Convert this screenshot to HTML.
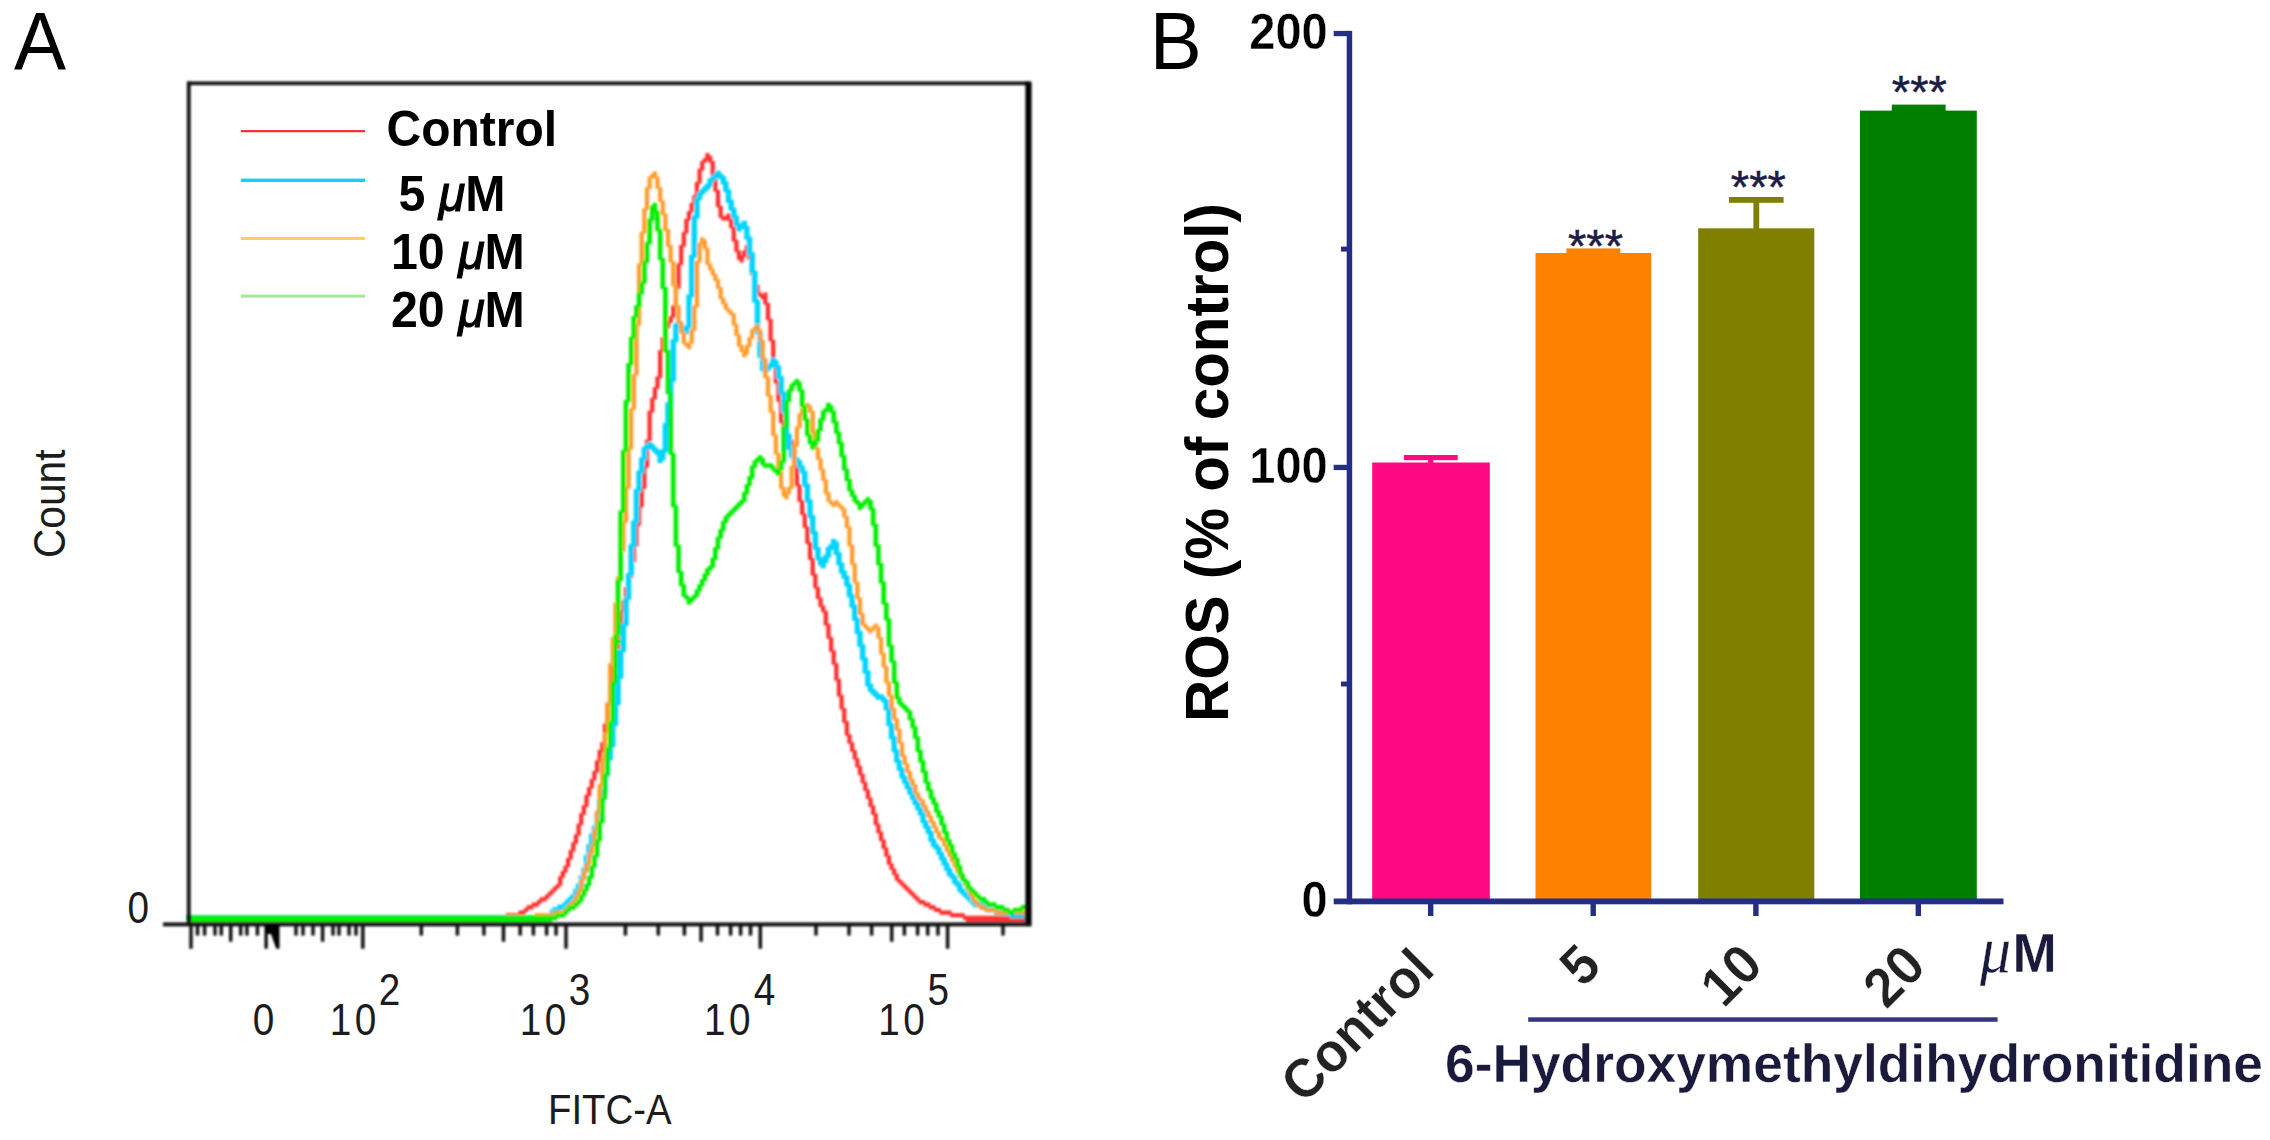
<!DOCTYPE html>
<html lang="en"><head><meta charset="utf-8"><title>ROS flow cytometry figure</title>
<style>html,body{margin:0;padding:0;background:#fff}body{width:2270px;height:1140px;overflow:hidden}svg{display:block}text{font-family:"Liberation Sans",Arial,Helvetica,sans-serif}</style>
</head><body>
<svg width="2270" height="1140" viewBox="0 0 2270 1140">
<defs><filter id="soft" x="-2%" y="-2%" width="104%" height="104%"><feGaussianBlur stdDeviation="0.8"/></filter><filter id="soft2" x="-5%" y="-5%" width="110%" height="110%"><feGaussianBlur stdDeviation="0.9"/></filter></defs>
<rect width="2270" height="1140" fill="#fff"/>
<g id="panelA">
<text transform="translate(14,68.7) scale(1,1.05)" font-size="78" fill="#000">A</text>
<g fill="none" stroke-linejoin="miter" stroke-linecap="square" filter="url(#soft)">
<path d="M507.59,915.24H518.11M520.74,912.61H523.37M526.0,909.98h.01M528.63,907.35H531.26M533.89,904.72H536.52M539.15,902.09h.01M541.78,899.46H544.41M547.04,896.83h.01M549.67,894.2h.01M552.3,891.57h.01M554.93,888.94h.01M557.56,886.31h.01M560.19,883.68V878.42M562.82,875.79V873.16M565.45,870.53V867.9M568.08,865.27V860.01M570.71,857.38V852.12M573.34,849.49V844.23M575.97,841.6V836.34M578.6,833.71V825.82M581.23,823.19V815.3M583.86,812.67V807.41M586.49,804.78V796.89M589.12,794.26V789.0M591.75,786.37V781.11M594.38,778.48V773.22M597.01,770.59V762.7M599.64,760.07V752.18M602.27,749.55V744.29M604.9,741.66V725.88M607.53,723.25V704.84M610.16,702.21V686.43M612.79,683.8V668.02M615.42,665.39V649.61M618.05,646.98V631.2M620.68,628.57V612.79M623.31,610.16V602.27M625.94,599.64V589.12M628.57,586.49V578.6M631.2,575.97V562.82M633.83,560.19V547.04M636.46,544.41V526.0M639.09,523.37V507.59M641.72,504.96V489.18M644.35,486.55V468.14M646.98,465.51V441.84M649.61,439.21V412.91M652.24,410.28V399.76M654.87,397.13V389.24M657.5,386.61V378.72M660.13,376.09V352.42M662.76,349.79V339.27M665.39,336.64V328.75M668.02,326.12V323.49M670.65,320.86V318.23M673.28,315.6V307.71M675.91,305.08V289.3M678.54,286.67V265.63M681.17,263.0V247.22M683.8,244.59V234.07M686.43,231.44V220.92M689.06,218.29V213.03M691.69,210.4V205.14M694.32,202.51V197.25M696.95,194.62V184.1M699.58,181.47V170.95M702.21,168.32V163.06M704.84,160.43h.01M707.47,157.8V155.17M710.1,157.8V160.43M712.73,163.06V173.58M715.36,176.21V189.36M717.99,191.99V205.14M720.62,207.77V215.66M723.25,218.29H725.88M728.51,215.66V218.29M731.14,220.92V226.18M733.77,228.81V239.33M736.4,241.96V249.85M739.03,252.48V257.74M741.66,260.37V257.74M744.29,255.11V252.48M746.92,249.85V247.22M749.55,249.85V257.74M752.18,260.37V273.52M754.81,276.15V284.04M757.44,286.67V291.93M760.07,294.56h.01M762.7,297.19h.01M765.33,294.56V302.45M767.96,305.08V318.23M770.59,320.86V339.27M773.22,341.9V362.94M775.85,365.57V381.35M778.48,383.98V399.76M781.11,402.39V420.8M783.74,423.43V428.69M786.37,431.32V433.95M789.0,436.58V439.21M791.63,441.84V444.47M794.26,447.1V465.51M796.89,468.14V483.92M799.52,486.55V499.7M802.15,502.33V512.85M804.78,515.48V526.0M807.41,528.63V541.78M810.04,544.41V557.56M812.67,560.19V573.34M815.3,575.97V586.49M817.93,589.12V597.01M820.56,599.64V604.9M823.19,607.53V610.16M825.82,612.79V623.31M828.45,625.94V636.46M831.08,639.09V649.61M833.71,652.24V662.76M836.34,665.39V678.54M838.97,681.17V694.32M841.6,696.95V707.47M844.23,710.1V720.62M846.86,723.25V733.77M849.49,736.4V741.66M852.12,744.29V749.55M854.75,752.18V757.44M857.38,760.07V765.33M860.01,767.96V773.22M862.64,775.85V781.11M865.27,783.74V789.0M867.9,791.63V796.89M870.53,799.52V804.78M873.16,807.41V812.67M875.79,815.3V823.19M878.42,825.82V831.08M881.05,833.71V838.97M883.68,841.6V846.86M886.31,849.49V854.75M888.94,857.38V862.64M891.57,865.27V867.9M894.2,870.53V873.16M896.83,875.79V878.42M899.46,881.05h.01M902.09,883.68h.01M904.72,886.31h.01M907.35,888.94h.01M909.98,891.57h.01M912.61,894.2h.01M915.24,896.83h.01M917.87,899.46h.01M920.5,902.09H923.13M925.76,904.72H928.39M931.02,907.35H933.65M936.28,909.98H938.91M941.54,912.61H949.43M952.06,915.24H962.58M965.21,917.87H1025.7" stroke="#ff2a2a" stroke-width="4.2"/>
<path d="M189.36,917.87H549.67M552.3,915.24V912.61M554.93,909.98H557.56M560.19,907.35H562.82M565.45,904.72h.01M568.08,902.09h.01M570.71,899.46h.01M573.34,896.83h.01M575.97,894.2V891.57M578.6,888.94V886.31M581.23,883.68V878.42M583.86,875.79V870.53M586.49,867.9V857.38M589.12,854.75V846.86M591.75,844.23V836.34M594.38,833.71V828.45M597.01,825.82V815.3M599.64,812.67V802.15M602.27,799.52V791.63M604.9,789.0V775.85M607.53,773.22V760.07M610.16,757.44V746.92M612.79,744.29V725.88M615.42,723.25V704.84M618.05,702.21V678.54M620.68,675.91V652.24M623.31,649.61V625.94M625.94,623.31V599.64M628.57,597.01V575.97M631.2,573.34V547.04M633.83,544.41V523.37M636.46,520.74V491.81M639.09,489.18V473.4M641.72,470.77V460.25M644.35,457.62V449.73M646.98,447.1h.01M649.61,444.47h.01M652.24,447.1h.01M654.87,449.73h.01M657.5,452.36h.01M660.13,454.99V460.25M662.76,457.62V452.36M665.39,449.73V426.06M668.02,423.43V405.02M670.65,402.39V381.35M673.28,378.72V341.9M675.91,339.27V326.12M678.54,323.49h.01M681.17,326.12h.01M683.8,328.75h.01M686.43,331.38V328.75M689.06,326.12V297.19M691.69,294.56V257.74M694.32,255.11V218.29M696.95,215.66V199.88M699.58,197.25V194.62M702.21,191.99h.01M704.84,189.36h.01M707.47,186.73h.01M710.1,184.1V181.47M712.73,178.84h.01M715.36,176.21h.01M717.99,173.58h.01M720.62,176.21h.01M723.25,178.84V181.47M725.88,184.1V189.36M728.51,191.99V199.88M731.14,202.51V207.77M733.77,210.4V215.66M736.4,218.29V223.55M739.03,226.18V228.81M741.66,226.18h.01M744.29,223.55V226.18M746.92,228.81V236.7M749.55,239.33V252.48M752.18,255.11V270.89M754.81,273.52V299.82M757.44,302.45V331.38M760.07,334.01V355.05M762.7,357.68V368.2M765.33,370.83h.01M767.96,368.2h.01M770.59,365.57h.01M773.22,362.94V360.31M775.85,362.94V365.57M778.48,368.2V376.09M781.11,378.72V391.87M783.74,394.5V410.28M786.37,412.91V433.95M789.0,436.58V447.1M791.63,449.73V454.99M794.26,457.62h.01M796.89,460.25h.01M799.52,462.88V465.51M802.15,468.14V470.77M804.78,473.4V483.92M807.41,486.55V499.7M810.04,502.33V515.48M812.67,518.11V531.26M815.3,533.89V547.04M817.93,549.67V557.56M820.56,560.19V562.82M823.19,565.45V562.82M825.82,560.19V557.56M828.45,554.93V549.67M831.08,547.04h.01M833.71,544.41V541.78M836.34,544.41V552.3M838.97,554.93V562.82M841.6,565.45V570.71M844.23,573.34V575.97M846.86,578.6V583.86M849.49,586.49V594.38M852.12,597.01V604.9M854.75,607.53V618.05M857.38,620.68V631.2M860.01,633.83V644.35M862.64,646.98V657.5M865.27,660.13V670.65M867.9,673.28V683.8M870.53,686.43V689.06M873.16,691.69h.01M875.79,694.32h.01M878.42,696.95H881.05M883.68,699.58h.01M886.31,702.21V707.47M888.94,710.1V723.25M891.57,725.88V736.4M894.2,739.03V749.55M896.83,752.18V760.07M899.46,762.7V767.96M902.09,770.59V775.85M904.72,778.48V781.11M907.35,783.74V786.37M909.98,789.0V791.63M912.61,794.26V796.89M915.24,799.52V802.15M917.87,804.78V807.41M920.5,810.04V812.67M923.13,815.3V820.56M925.76,823.19V825.82M928.39,828.45V831.08M931.02,833.71V838.97M933.65,841.6V844.23M936.28,846.86h.01M938.91,849.49V852.12M941.54,854.75V857.38M944.17,860.01V862.64M946.8,865.27V867.9M949.43,870.53V873.16M952.06,875.79h.01M954.69,878.42V881.05M957.32,883.68h.01M959.95,886.31V888.94M962.58,891.57h.01M965.21,894.2h.01M967.84,896.83h.01M970.47,899.46h.01M973.1,902.09h.01M975.73,904.72H980.99M983.62,907.35H986.25M988.88,909.98H994.14M996.77,912.61H999.4M1002.03,915.24H1007.29M1009.92,917.87H1025.7" stroke="#00d4fa" stroke-width="5.5"/>
<path d="M189.36,917.87H533.89M536.52,915.24H552.3M554.93,912.61H562.82M565.45,909.98h.01M568.08,907.35h.01M570.71,904.72h.01M573.34,902.09h.01M575.97,899.46V896.83M578.6,894.2V891.57M581.23,888.94V881.05M583.86,878.42V873.16M586.49,870.53V865.27M589.12,862.64V854.75M591.75,852.12V846.86M594.38,844.23V831.08M597.01,828.45V812.67M599.64,810.04V786.37M602.27,783.74V760.07M604.9,757.44V733.77M607.53,731.14V704.84M610.16,702.21V665.39M612.79,662.76V639.09M615.42,636.46V604.9M618.05,602.27V578.6M620.68,575.97V552.3M623.31,549.67V523.37M625.94,520.74V489.18M628.57,486.55V449.73M631.2,447.1V410.28M633.83,407.65V376.09M636.46,373.46V326.12M639.09,323.49V265.63M641.72,263.0V234.07M644.35,231.44V210.4M646.98,207.77V189.36M649.61,186.73V178.84M652.24,176.21h.01M654.87,173.58V176.21M657.5,178.84V186.73M660.13,189.36V199.88M662.76,202.51V213.03M665.39,215.66V228.81M668.02,231.44V244.59M670.65,247.22V260.37M673.28,263.0V284.04M675.91,286.67V305.08M678.54,307.71V320.86M681.17,323.49V331.38M683.8,334.01V341.9M686.43,344.53h.01M689.06,347.16V344.53M691.69,341.9V331.38M694.32,328.75V307.71M696.95,305.08V263.0M699.58,260.37V244.59M702.21,241.96V239.33M704.84,241.96V247.22M707.47,249.85V263.0M710.1,265.63V268.26M712.73,270.89V273.52M715.36,276.15V278.78M717.99,281.41V286.67M720.62,289.3V297.19M723.25,299.82V302.45M725.88,305.08V307.71M728.51,310.34h.01M731.14,312.97h.01M733.77,315.6V323.49M736.4,326.12V334.01M739.03,336.64V344.53M741.66,347.16V349.79M744.29,352.42V355.05M746.92,352.42V347.16M749.55,344.53V339.27M752.18,336.64V331.38M754.81,328.75h.01M757.44,326.12V328.75M760.07,331.38V339.27M762.7,341.9V357.68M765.33,360.31V376.09M767.96,378.72V394.5M770.59,397.13V410.28M773.22,412.91V433.95M775.85,436.58V452.36M778.48,454.99V470.77M781.11,473.4V486.55M783.74,489.18V494.44M786.37,497.07V494.44M789.0,491.81V489.18M791.63,486.55V468.14M794.26,465.51V447.1M796.89,444.47V428.69M799.52,426.06V415.54M802.15,412.91V410.28M804.78,407.65h.01M807.41,405.02h.01M810.04,407.65V410.28M812.67,412.91V431.32M815.3,433.95V447.1M817.93,449.73V457.62M820.56,460.25V468.14M823.19,470.77V478.66M825.82,481.29V491.81M828.45,494.44V499.7M831.08,502.33h.01M833.71,504.96h.01M836.34,502.33h.01M838.97,504.96h.01M841.6,507.59h.01M844.23,510.22V515.48M846.86,518.11V526.0M849.49,528.63V544.41M852.12,547.04V562.82M854.75,565.45V581.23M857.38,583.86V597.01M860.01,599.64V612.79M862.64,615.42V623.31M865.27,625.94h.01M867.9,628.57h.01M870.53,631.2h.01M873.16,628.57h.01M875.79,625.94h.01M878.42,628.57V636.46M881.05,639.09V652.24M883.68,654.87V665.39M886.31,668.02V681.17M888.94,683.8V694.32M891.57,696.95V707.47M894.2,710.1V717.99M896.83,720.62V728.51M899.46,731.14V741.66M902.09,744.29V754.81M904.72,757.44V762.7M907.35,765.33V770.59M909.98,773.22V778.48M912.61,781.11V783.74M915.24,786.37V791.63M917.87,794.26V796.89M920.5,799.52h.01M923.13,802.15V804.78M925.76,807.41V810.04M928.39,812.67V815.3M931.02,817.93V820.56M933.65,823.19V825.82M936.28,828.45V831.08M938.91,833.71V836.34M941.54,838.97h.01M944.17,841.6V844.23M946.8,846.86V849.49M949.43,852.12V854.75M952.06,857.38V860.01M954.69,862.64V865.27M957.32,867.9V870.53M959.95,873.16V875.79M962.58,878.42h.01M965.21,881.05V883.68M967.84,886.31V888.94M970.47,891.57V894.2M973.1,896.83V899.46M975.73,902.09h.01M978.36,904.72h.01M980.99,907.35H983.62M986.25,909.98H994.14M996.77,912.61H1025.7" stroke="#ff9a28" stroke-width="4.2"/>
<path d="M189.36,917.87H554.93M557.56,915.24H562.82M565.45,912.61h.01M568.08,909.98h.01M570.71,907.35H573.34M575.97,904.72h.01M578.6,902.09h.01M581.23,899.46V896.83M583.86,894.2V891.57M586.49,888.94V886.31M589.12,883.68V878.42M591.75,875.79V867.9M594.38,865.27V857.38M597.01,854.75V841.6M599.64,838.97V823.19M602.27,820.56V799.52M604.9,796.89V775.85M607.53,773.22V749.55M610.16,746.92V723.25M612.79,720.62V683.8M615.42,681.17V644.35M618.05,641.72h.01M615.42,639.09V636.46M618.05,633.83V581.23M620.68,578.6V512.85M623.31,510.22V452.36M625.94,449.73V402.39M628.57,399.76V365.57M631.2,362.94V339.27M633.83,336.64V318.23M636.46,315.6V307.71M639.09,305.08V294.56M641.72,291.93V284.04M644.35,281.41V263.0M646.98,260.37V244.59M649.61,241.96V220.92M652.24,218.29V207.77M654.87,205.14V210.4M657.5,213.03V228.81M660.13,231.44V257.74M662.76,260.37V286.67M665.39,289.3V349.79M668.02,352.42V391.87M670.65,394.5V452.36M673.28,454.99V504.96M675.91,507.59V544.41M678.54,547.04V570.71M681.17,573.34V583.86M683.8,586.49V594.38M686.43,597.01h.01M689.06,599.64V602.27M691.69,599.64h.01M694.32,597.01h.01M696.95,594.38V591.75M699.58,589.12V586.49M702.21,583.86V581.23M704.84,578.6V575.97M707.47,573.34V570.71M710.1,568.08h.01M712.73,565.45V560.19M715.36,557.56V549.67M717.99,547.04V539.15M720.62,536.52V531.26M723.25,528.63V523.37M725.88,520.74V518.11M728.51,515.48h.01M731.14,512.85h.01M733.77,510.22h.01M736.4,507.59h.01M739.03,504.96h.01M741.66,502.33h.01M744.29,499.7V494.44M746.92,491.81V486.55M749.55,483.92V478.66M752.18,476.03V468.14M754.81,465.51V462.88M757.44,460.25h.01M760.07,457.62h.01M762.7,460.25V462.88M765.33,465.51H770.59M773.22,468.14h.01M775.85,470.77h.01M778.48,473.4V470.77M781.11,468.14V462.88M783.74,460.25V428.69M786.37,426.06V402.39M789.0,399.76V391.87M791.63,389.24V386.61M794.26,383.98h.01M796.89,381.35h.01M799.52,383.98V389.24M802.15,391.87V405.02M804.78,407.65V418.17M807.41,420.8V433.95M810.04,436.58V441.84M812.67,444.47V447.1M815.3,444.47V441.84M817.93,439.21V431.32M820.56,428.69V420.8M823.19,418.17V412.91M825.82,410.28h.01M828.45,407.65V405.02M831.08,407.65V410.28M833.71,412.91V420.8M836.34,423.43V431.32M838.97,433.95V441.84M841.6,444.47V454.99M844.23,457.62V468.14M846.86,470.77V478.66M849.49,481.29V489.18M852.12,491.81V494.44M854.75,497.07V499.7M857.38,502.33h.01M860.01,504.96V507.59M862.64,504.96h.01M865.27,502.33h.01M867.9,499.7h.01M870.53,502.33V507.59M873.16,510.22V523.37M875.79,526.0V544.41M878.42,547.04V562.82M881.05,565.45V581.23M883.68,583.86V602.27M886.31,604.9V618.05M888.94,620.68V644.35M891.57,646.98V660.13M894.2,662.76V681.17M896.83,683.8V696.95M899.46,699.58V702.21M902.09,704.84h.01M904.72,707.47h.01M907.35,710.1h.01M909.98,712.73V717.99M912.61,720.62V725.88M915.24,728.51V736.4M917.87,739.03V749.55M920.5,752.18V760.07M923.13,762.7V770.59M925.76,773.22V781.11M928.39,783.74V789.0M931.02,791.63V796.89M933.65,799.52V802.15M936.28,804.78V810.04M938.91,812.67V815.3M941.54,817.93V823.19M944.17,825.82V831.08M946.8,833.71V838.97M949.43,841.6V844.23M952.06,846.86V852.12M954.69,854.75V857.38M957.32,860.01V865.27M959.95,867.9V873.16M962.58,875.79V878.42M965.21,881.05h.01M967.84,883.68V886.31M970.47,888.94h.01M973.1,891.57h.01M975.73,894.2h.01M978.36,896.83h.01M980.99,899.46H983.62M986.25,902.09h.01M988.88,904.72H994.14M996.77,907.35H1002.03M1004.66,909.98H1007.29M1009.92,912.61H1012.55M1015.18,909.98H1020.44M1023.07,907.35H1025.7" stroke="#00ee00" stroke-width="4.7"/>
<rect x="966" y="916" width="60" height="6.8" fill="#ff3333" stroke="none"/>
<rect x="1010" y="914.5" width="15" height="4" fill="#00c8f0" stroke="none"/>
<rect x="190" y="916" width="362" height="6.8" fill="#00f000" stroke="none"/>
</g>
<g filter="url(#soft2)">
<rect x="187" y="81.5" width="842" height="3.6" fill="#0a0a0a"/>
<rect x="186.9" y="81.5" width="3.7" height="844.5" fill="#0a0a0a"/>
<rect x="1025.4" y="81.5" width="6.2" height="844.7" fill="#000"/>
<rect x="163" y="922.5" width="868" height="3.8" fill="#0a0a0a"/>
<path d="M191,925V948.7M362.8,925V948.7M566,925V948.7M760.3,925V948.7M947.6,925V948.7M230.7,925V941.7M322.6,925V941.7M503.5,925V941.7M701.1,925V941.7M891.7,925V941.7M197.5,925V935.5M204.6,925V935.5M215,925V935.5M221.3,925V935.5M240.7,925V935.5M246.9,925V935.5M257.4,925V935.5M296,925V935.5M303,925V935.5M313,925V935.5M333,925V935.5M339,925V935.5M349,925V935.5M356,925V935.5M421.3,925V935.5M457.4,925V935.5M483.9,925V935.5M520.2,925V935.5M533.4,925V935.5M546.6,925V935.5M556.1,925V935.5M625.4,925V935.5M658.3,925V935.5M684.4,925V935.5M717.5,925V935.5M730.6,925V935.5M740.6,925V935.5M750.5,925V935.5M816,925V935.5M849,925V935.5M871.6,925V935.5M904.4,925V935.5M917.6,925V935.5M927.7,925V935.5M937.9,925V935.5M1003,925V935.5" stroke="#0a0a0a" stroke-width="3.4" fill="none"/>
<path d="M264.5,925H279.5V948.7H276.3L271,934L267.7,934V948.7H264.5Z" fill="#000"/>
</g>
<rect x="241" y="130.1" width="124" height="2.1" fill="#ff2626"/>
<rect x="241" y="178.6" width="124" height="3.4" fill="#10d0ff"/>
<rect x="241" y="236.9" width="124" height="3.1" fill="#ffcf60"/>
<rect x="241" y="294.6" width="124" height="3.1" fill="#a6e89a"/>
<g font-weight="bold" font-size="48.3" fill="#000">
<text transform="translate(386.5,145.8) scale(1,1.04)" font-size="48">Control</text>
<text transform="translate(398.5,211.4) scale(1,1.04)">5 <tspan font-weight="normal" font-style="italic" stroke="#000" stroke-width="1.1">μ</tspan>M</text>
<text transform="translate(391,269) scale(1,1.04)">10 <tspan font-weight="normal" font-style="italic" stroke="#000" stroke-width="1.1">μ</tspan>M</text>
<text transform="translate(391,327) scale(1,1.04)">20 <tspan font-weight="normal" font-style="italic" stroke="#000" stroke-width="1.1">μ</tspan>M</text>
</g>
<g font-size="44" fill="#1c1c1c">
<text transform="translate(127.6,923.2) scale(0.88,1)" letter-spacing="0">0</text>
<text transform="translate(65.2,558) rotate(-90)" textLength="108.5" lengthAdjust="spacingAndGlyphs">Count</text>
<text transform="translate(252.8,1035) scale(0.88,1)" letter-spacing="0">0</text>
<text transform="translate(329.8,1035) scale(0.88,1)" letter-spacing="4">10</text>
<text transform="translate(378.8,1005.4) scale(0.88,1)" letter-spacing="0">2</text>
<text transform="translate(519.8,1035) scale(0.88,1)" letter-spacing="4">10</text>
<text transform="translate(568.6999999999999,1005.4) scale(0.88,1)" letter-spacing="0">3</text>
<text transform="translate(704.0,1035) scale(0.88,1)" letter-spacing="4">10</text>
<text transform="translate(753.6999999999999,1005.4) scale(0.88,1)" letter-spacing="0">4</text>
<text transform="translate(878.1999999999999,1035) scale(0.88,1)" letter-spacing="4">10</text>
<text transform="translate(927.5,1005.4) scale(0.88,1)" letter-spacing="0">5</text>
<text x="548" y="1123.8" font-size="43" textLength="123.5" lengthAdjust="spacingAndGlyphs">FITC-A</text>
</g>
</g>
<g id="panelB">
<text transform="translate(1149.8,68.7) scale(1,1.05)" font-size="78" fill="#000">B</text>
<rect x="1372.2" y="462.5" width="117.6" height="438.5" fill="#ff0a82"/>
<rect x="1535.5" y="253" width="115.7" height="648" fill="#ff8200"/>
<rect x="1698.2" y="228.3" width="116.1" height="672.7" fill="#808000"/>
<rect x="1860" y="110.6" width="116.8" height="790.4" fill="#008000"/>
<rect x="1404" y="455" width="53.7" height="5.2" fill="#ff0a82"/><rect x="1428.2" y="457" width="5.2" height="8" fill="#ff0a82"/>
<rect x="1566.4" y="248.4" width="53.9" height="6" fill="#ff8200"/>
<rect x="1729" y="197" width="54.6" height="5.8" fill="#808000"/><rect x="1753.4" y="199" width="5.8" height="31" fill="#808000"/>
<rect x="1891.8" y="104.6" width="53.8" height="8" fill="#008000"/>
<g fill="#252e86">
<rect x="1346.7" y="30.9" width="5.5" height="873.4" />
<rect x="1333.7" y="898.5" width="669.8" height="5.8" />
<rect x="1333.7" y="30.9" width="16" height="5.3" />
<rect x="1333.7" y="464.8" width="16" height="5.3" />
<rect x="1341" y="246.6" width="8" height="5" />
<rect x="1341" y="681.5" width="8" height="5" />
<rect x="1428.0" y="900" width="5.4" height="16" />
<rect x="1590.5" y="900" width="5.4" height="16" />
<rect x="1753.2" y="900" width="5.4" height="16" />
<rect x="1915.6" y="900" width="5.4" height="16" />
</g>
<rect x="1528.2" y="1017.3" width="469.4" height="4.5" fill="#343878"/>
<g font-weight="bold" font-size="47" fill="#000" text-anchor="end" stroke="#fff" stroke-width="0.4">
<text transform="translate(1327.7,49) scale(1,1.05)">200</text><text transform="translate(1327.7,483) scale(1,1.05)">100</text><text transform="translate(1327.7,916.6) scale(1,1.05)">0</text>
</g>
<text transform="translate(1228,722) rotate(-90) scale(1,0.975)" font-weight="bold" font-size="63" fill="#000" textLength="519" lengthAdjust="spacingAndGlyphs">ROS (% of control)</text>
<g font-size="47" fill="#1c1c44" text-anchor="middle" stroke="#1c1c44" stroke-width="0.5">
<text x="1595.5" y="261.6">***</text><text x="1758.3" y="203.4">***</text><text x="1919.3" y="107.6">***</text>
</g>
<g font-weight="bold" font-size="53" fill="#222" text-anchor="end" stroke="#fff" stroke-width="0.4">
<text transform="translate(1437,972) rotate(-45) scale(1,1.04)">Control</text>
<text transform="translate(1603.5,968) rotate(-45) scale(1,1.04)">5</text>
<text transform="translate(1765.2,967.5) rotate(-45) scale(1,1.04)">10</text>
<text transform="translate(1928,968.5) rotate(-45) scale(1,1.04)">20</text>
</g>
<text transform="translate(0,971.8) scale(1,1.04)" x="1980" font-size="53" font-weight="bold" fill="#1a1a3c" stroke="#fff" stroke-width="0.3"><tspan font-family="'Liberation Serif','DejaVu Serif',serif" font-style="italic" font-weight="normal" font-size="62">μ</tspan><tspan x="2012.5">M</tspan></text>
<text transform="translate(1445,1082.3) scale(1,1.04)" font-size="52" font-weight="bold" fill="#1a1a3c" stroke="#fff" stroke-width="0.4" textLength="818" lengthAdjust="spacingAndGlyphs">6-Hydroxymethyldihydronitidine</text>
</g>
</svg></body></html>
